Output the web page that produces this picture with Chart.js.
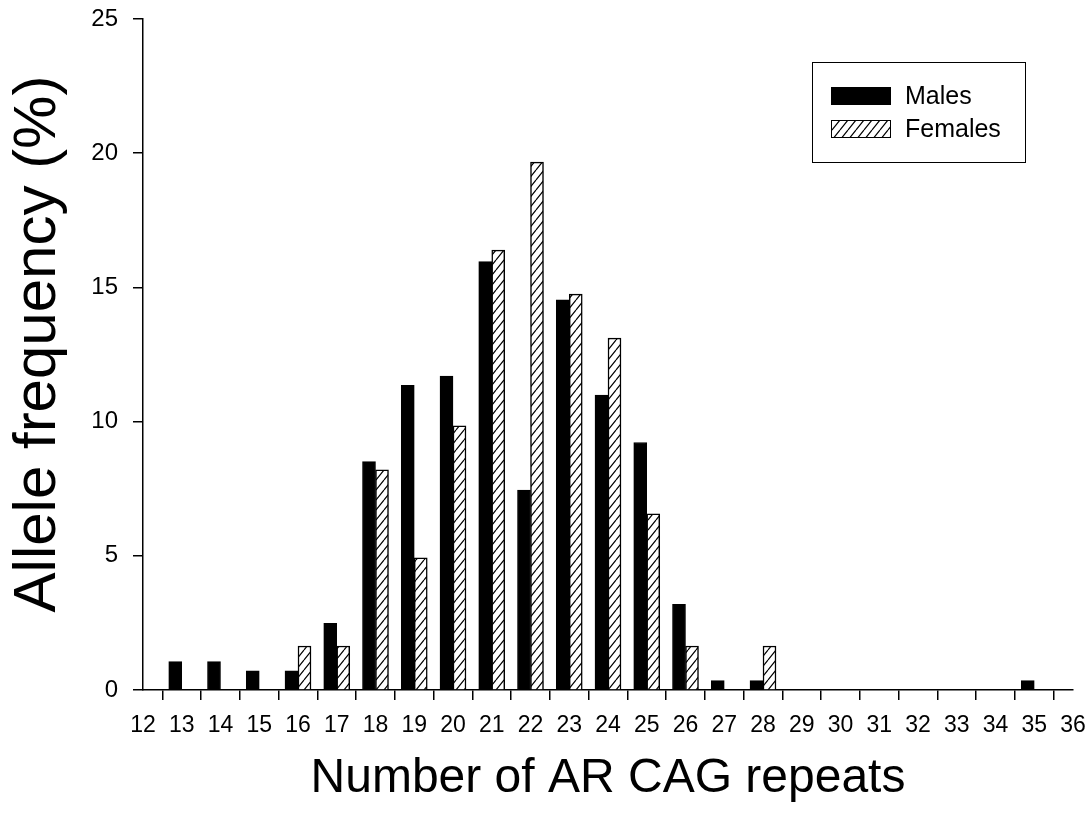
<!DOCTYPE html>
<html>
<head>
<meta charset="utf-8">
<title>AR CAG repeats</title>
<script src="https://cdn.jsdelivr.net/npm/chart.js@4.4.1/dist/chart.umd.min.js"></script>
<style>
    html, body { margin: 0; padding: 0; background: #fff; }
    #wrap { width: 1091px; height: 816px; position: relative; }
</style>
</head>
<body>
<div id="wrap"><canvas id="chart"></canvas></div>
<script>
/* =============================
   DATA — allele frequency (%) per CAG repeat length
============================= */

const maleRepeats = [13, 14, 15, 16, 17, 18, 19, 20, 21, 22, 23, 24, 25, 26, 27, 28, 35];
const maleFreq = [1.06, 1.06, 0.71, 0.71, 2.48, 8.51, 11.35, 11.70, 15.96, 7.45, 14.54, 10.99, 9.22, 3.19, 0.35, 0.35, 0.35];

const femaleRepeats = [16, 17, 18, 19, 20, 21, 22, 23, 24, 25, 26, 28];
const femaleFreq = [1.64, 1.64, 8.20, 4.92, 9.84, 16.39, 19.67, 14.75, 13.11, 6.56, 1.64, 1.64];

const seriesNames = ["Males", "Females"];
const xLimits = [12, 36];
const yLimits = [0, 25];
const xTitle = "Number of AR CAG repeats";
const yTitle = "Allele frequency (%)";

/* =============================
   HELPERS
============================= */

const FONT = '"Liberation Sans", Arial, sans-serif';
Chart.defaults.font.family = FONT;
Chart.defaults.color = "#000";

// diagonal hatch used for the female bars
function makeHatch() {
    const w = 8, h = 10;
    const c = document.createElement("canvas");
    c.width = w;
    c.height = h;
    const g = c.getContext("2d");
    g.fillStyle = "#fff";
    g.fillRect(0, 0, w, h);
    g.strokeStyle = "#000";
    g.lineWidth = 1.2;
    g.beginPath();
    g.moveTo(0, h); g.lineTo(w, 0);
    g.moveTo(-w, h); g.lineTo(0, 0);
    g.moveTo(w, h); g.lineTo(2 * w, 0);
    g.stroke();
    return g.createPattern(c, "repeat");
}

const toPoints = (xs, ys) => xs.map((x, i) => ({ x: x, y: ys[i] }));

// rotated y title + boxed legend
const decorations = {
    id: "decorations",
    afterDraw(chart) {
        const ctx = chart.ctx;
        ctx.save();

        // y axis title
        ctx.save();
        ctx.translate(38, 344);
        ctx.rotate(-Math.PI / 2);
        ctx.font = "60px " + FONT;
        ctx.fillStyle = "#000";
        ctx.textAlign = "center";
        ctx.textBaseline = "middle";
        ctx.fillText(yTitle, 0, 0);
        ctx.restore();

        // legend
        ctx.strokeStyle = "#000";
        ctx.lineWidth = 1;
        ctx.strokeRect(812.5, 62.5, 213, 100);

        ctx.font = "25px " + FONT;
        ctx.textBaseline = "middle";
        chart.data.datasets.forEach((ds, i) => {
            const y = 87 + i * 33;
            ctx.fillStyle = ds.backgroundColor;
            ctx.fillRect(831, y, 60, 18);
            ctx.strokeRect(831.5, y + 0.5, 59, 17);
            ctx.fillStyle = "#000";
            ctx.fillText(ds.label, 905, y + 10);
        });
        ctx.restore();
    }
};

/* =============================
   CHART
============================= */

const axisLine = { display: true, color: "#000", width: 1.5 };
const tickMarks = {
    display: true,
    drawOnChartArea: false,
    drawTicks: true,
    tickLength: 10,
    color: "#000",
    lineWidth: 1.5
};

// fixed axis box sizes, no extra room for overhanging end labels
function fixBox(size) {
    return s => {
        if (s.isHorizontal()) s.height = size; else s.width = size;
        s.paddingTop = s.paddingBottom = s.paddingLeft = s.paddingRight = 0;
    };
}

new Chart(document.getElementById("chart"), {
    type: "bar",
    data: {
        datasets: [
            {
                label: seriesNames[0],
                data: toPoints(maleRepeats, maleFreq),
                backgroundColor: "#000",
                borderColor: "#000",
                borderWidth: 1,
                barThickness: 13
            },
            {
                label: seriesNames[1],
                data: toPoints(femaleRepeats, femaleFreq),
                backgroundColor: makeHatch(),
                borderColor: "#000",
                borderWidth: 1.5,
                barThickness: 13
            }
        ]
    },
    options: {
        responsive: true,
        maintainAspectRatio: false,
        animation: false,
        layout: { padding: { top: 19, right: 18, left: 0, bottom: 0 } },
        plugins: {
            legend: { display: false },
            tooltip: { enabled: false }
        },
        scales: {
            x: {
                type: "linear",
                min: xLimits[0],
                max: xLimits[1],
                offset: false,
                ticks: { stepSize: 1, font: { size: 23 }, padding: 12, maxRotation: 0, autoSkip: false },
                grid: tickMarks,
                border: axisLine,
                title: {
                    display: true,
                    text: xTitle,
                    font: { size: 48, lineHeight: 1 },
                    padding: { top: 0, bottom: 13 }
                },
                afterFit: fixBox(126)
            },
            y: {
                min: yLimits[0],
                max: yLimits[1],
                ticks: { stepSize: 5, font: { size: 24 }, padding: 15 },
                grid: tickMarks,
                border: axisLine,
                afterFit: fixBox(143)
            }
        }
    },
    plugins: [decorations]
});
</script>
</body>
</html>
